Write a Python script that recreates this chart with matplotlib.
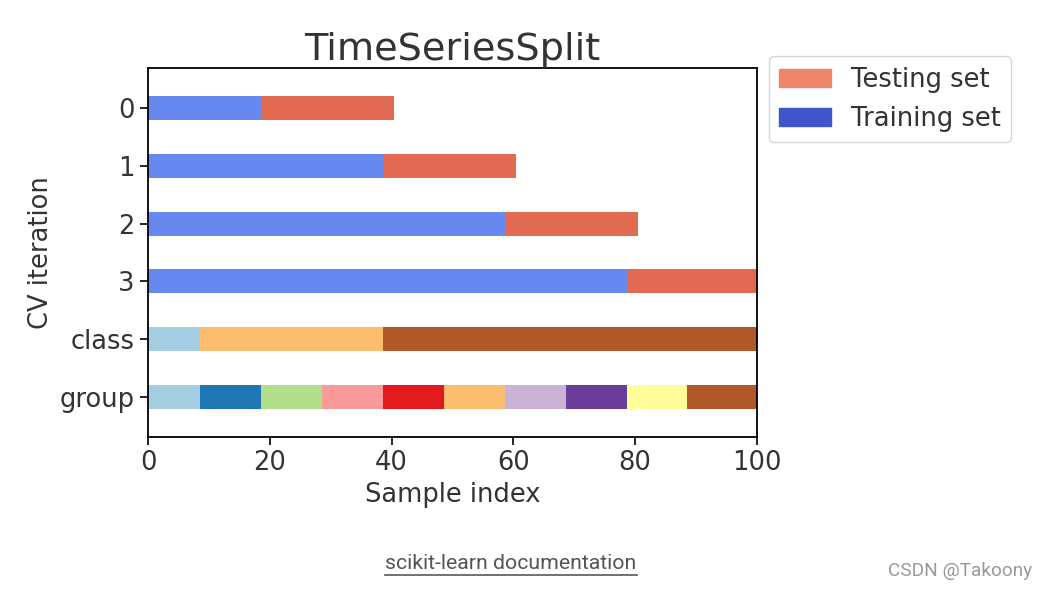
import numpy as np
import matplotlib
matplotlib.use("Agg")
import matplotlib.pyplot as plt
from matplotlib.patches import Patch
from matplotlib.lines import Line2D

# data
n_samples = 100
n_splits = 4
test_size = 20
train_ends = [20, 40, 60, 80]          # training set = samples [0, end)
class_sizes = [10, 30, 60]             # samples per class, in order
group_sizes = [10] * 10                # samples per group, in order
row_labels = ["0", "1", "2", "3", "class", "group"]

cmap_cv = plt.cm.coolwarm
cmap_data = plt.cm.Paired

classes = np.hstack([[k] * s for k, s in enumerate(class_sizes)])
groups = np.hstack([[k] * s for k, s in enumerate(group_sizes)])
idx = np.arange(n_samples)

txt = "#333333"
plt.rcParams["text.color"] = txt
plt.rcParams["axes.labelcolor"] = txt
plt.rcParams["xtick.color"] = txt
plt.rcParams["ytick.color"] = txt


def draw_row(ax, y, colors, w=2.8, h=0.42):
    # each sample is a short block centred on its index, later ones on top
    ax.barh([y] * len(colors), w, left=idx[:len(colors)] - w / 2,
            height=h, color=colors, linewidth=0)


fig = plt.figure(figsize=(10.47, 5.89), dpi=100)
ax = fig.add_axes([0.1414, 0.258, 0.5815, 0.6266])

for ii, end in enumerate(train_ends):
    vals = np.zeros(end + test_size)
    vals[end:] = 1
    cols = cmap_cv((vals + 0.2) / 1.4)
    draw_row(ax, ii + 0.5, cols)

draw_row(ax, n_splits + 0.5, cmap_data(classes / classes.max()))
draw_row(ax, n_splits + 1.5, cmap_data(groups / groups.max()))

fs = 18.5
ax.set_yticks(np.arange(n_splits + 2) + 0.5)
ax.set_yticklabels(row_labels)
ax.set_ylim(n_splits + 2.2, -0.2)
ax.set_xlim(0, 100)
ax.tick_params(labelsize=fs, length=6, width=1.2, color="black")
ax.set_xlabel("Sample index", fontsize=fs)
ax.set_ylabel("CV iteration", fontsize=fs)
ax.set_title("TimeSeriesSplit", fontsize=27.5)
for sp in ax.spines.values():
    sp.set_linewidth(1.3)

ax.legend([Patch(color=cmap_cv(.8)), Patch(color=cmap_cv(.02))],
          ["Testing set", "Training set"], loc=(1.02, .8), fontsize=fs)

# caption below the figure
fig.text(0.488, 0.034, "scikit-learn documentation", ha="center", va="baseline",
         fontsize=15.3, color="#555555", family="Roboto")
fig.add_artist(Line2D([0.368, 0.608], [0.0238, 0.0238], color="#666666", lw=1.3))
fig.text(0.986, 0.022, "CSDN @Takoony", ha="right", va="baseline",
         fontsize=13.7, color="#999999", family="Roboto")

fig.savefig("out.png", dpi=100)
